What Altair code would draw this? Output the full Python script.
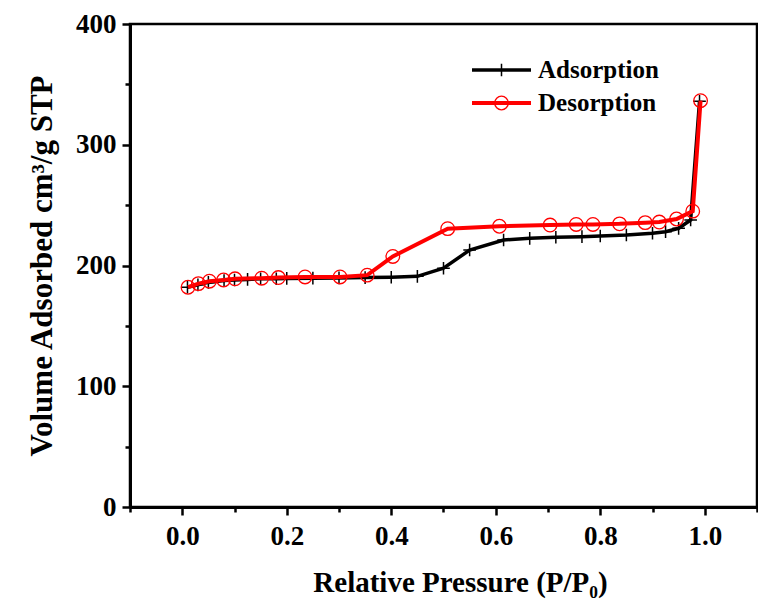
import altair as alt
import pandas as pd

ads_x = [0.01, 0.03, 0.05, 0.08, 0.1, 0.125, 0.15, 0.18, 0.2, 0.25, 0.3, 0.35, 0.4, 0.45,
         0.5, 0.55, 0.615, 0.665, 0.715, 0.765, 0.8, 0.85, 0.9, 0.925, 0.95, 0.973, 0.99]
ads_y = [182, 184, 186, 187.5, 188, 188.5, 189, 189, 189.3, 189.5, 189.7, 190, 190.3, 191,
         197.7, 212.8, 221.1, 222.5, 223.4, 223.9, 224.4, 225.3, 226.7, 228, 230.8, 237.7, 336]

des_x = [0.011, 0.031, 0.052, 0.079, 0.101, 0.152, 0.184, 0.235, 0.302, 0.354, 0.403, 0.508,
         0.607, 0.704, 0.754, 0.786, 0.837, 0.886, 0.913, 0.946, 0.977, 0.992]
des_y = [182, 185, 187, 188, 189, 189.5, 190, 190.5, 190.5, 192, 207.5, 230.5,
         232.5, 233.5, 234, 234, 234.5, 235.5, 236, 238.5, 245, 336.5]

series_names = ["Adsorption", "Desorption"]
x_ticks = [round(-0.1 + 0.1 * i, 1) for i in range(13)]
y_ticks = [50 * i for i in range(9)]

FONT = "Liberation Serif"
W, H = 627, 483

ads = pd.DataFrame({"p": ads_x, "v": ads_y})
des = pd.DataFrame({"p": des_x, "v": des_y})

xscale = alt.Scale(domain=[-0.1, 1.1], nice=False, zero=False)
yscale = alt.Scale(domain=[0, 400], nice=False)

xaxis = alt.Axis(
    values=x_ticks,
    labelExpr="round(datum.value*10) % 2 == 0 ? format(datum.value, '.1f') : ''",
    tickSize=alt.condition("round(datum.value*10) % 2 == 0", alt.value(8), alt.value(5)),
    title="Relative Pressure (P/P₀)",
    grid=False,
    domainColor="black", domainWidth=3,
    tickColor="black", tickWidth=2.5,
    labelFont=FONT, labelFontSize=27, labelFontWeight="bold", labelColor="black",
    labelPadding=8, labelFlush=False, labelOverlap=False,
    titleFont=FONT, titleFontSize=29, titleFontWeight="bold", titleColor="black",
    titlePadding=19, titleX=330,
)
yaxis = alt.Axis(
    values=y_ticks,
    labelExpr="datum.value % 100 == 0 ? datum.label : ''",
    tickSize=alt.condition("datum.value % 100 == 0", alt.value(8), alt.value(5)),
    title="Volume Adsorbed cm³/g STP",
    grid=False,
    domainColor="black", domainWidth=3,
    tickColor="black", tickWidth=2.5,
    labelFont=FONT, labelFontSize=27, labelFontWeight="bold", labelColor="black",
    labelPadding=6, labelFlush=False, labelOverlap=False,
    titleFont=FONT, titleFontSize=31, titleFontWeight="bold", titleColor="black",
    titlePadding=17,
)

X = alt.X("p:Q", scale=xscale, axis=xaxis)
Y = alt.Y("v:Q", scale=yscale, axis=yaxis)

cross = "M0,-1V1M-1,0H1"

ads_line = alt.Chart(ads).mark_line(color="black", strokeWidth=3.5).encode(x=X, y=Y)
ads_pts = alt.Chart(ads).mark_point(shape=cross, size=160, color="black", strokeWidth=1.5,
                                    filled=False, opacity=1).encode(x=X, y=Y)
des_line = alt.Chart(des).mark_line(color="#ff0000", strokeWidth=4).encode(x=X, y=Y)
des_pts = alt.Chart(des).mark_point(shape="circle", size=185, color="#ff0000", strokeWidth=1.3,
                                    filled=False, opacity=1).encode(x=X, y=Y)

leg = pd.DataFrame({"name": series_names})
lx1, lx2, ltx = 342, 401, 408
ly = [46, 79]
leg_layers = []
for i, (nm, col) in enumerate(zip(series_names, ["black", "#ff0000"])):
    d = leg[leg["name"] == nm]
    leg_layers.append(alt.Chart(d).mark_rule(color=col, strokeWidth=3.5 if i == 0 else 4).encode(
        x=alt.value(lx1), x2=alt.value(lx2), y=alt.value(ly[i])))
    if i == 0:
        leg_layers.append(alt.Chart(d).mark_point(shape=cross, size=160, color="black",
                                                  strokeWidth=1.5, filled=False, opacity=1).encode(
            x=alt.value((lx1 + lx2) / 2), y=alt.value(ly[i])))
    else:
        leg_layers.append(alt.Chart(d).mark_point(shape="circle", size=185, color="#ff0000",
                                                  strokeWidth=1.3, filled=False, opacity=1).encode(
            x=alt.value((lx1 + lx2) / 2), y=alt.value(ly[i])))
    leg_layers.append(alt.Chart(d).mark_text(font=FONT, fontSize=25, fontWeight="bold", color="black",
                                             align="left", baseline="middle").encode(
        x=alt.value(ltx), y=alt.value(ly[i]), text="name:N"))

chart = alt.layer(ads_line, ads_pts, des_line, des_pts, *leg_layers).properties(
    width=W, height=H,
    autosize=alt.AutoSizeParams(type="none"),
    padding={"left": 130, "top": 24, "right": 1, "bottom": 100},
    background="white",
).configure_view(stroke="black", strokeWidth=2.5)

chart.save("out.html", embed_options={"renderer": "svg", "actions": False})
